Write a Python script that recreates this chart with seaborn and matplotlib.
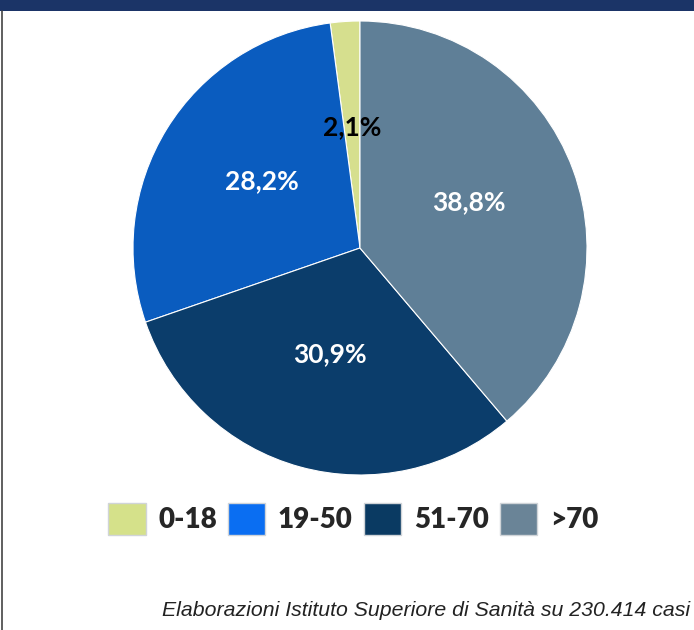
import matplotlib
matplotlib.use("Agg")
import numpy as np
import matplotlib.pyplot as plt
from matplotlib.patches import Patch, Rectangle
from matplotlib.lines import Line2D
import seaborn as sns

sns.set_theme(style="white")
plt.rcParams['font.family'] = ['Lato', 'DejaVu Sans']

# age classes and share of cases (%)
age_classes = ['0-18', '19-50', '51-70', '>70']
shares = [2.1, 28.2, 30.9, 38.8]
pct_labels = ['2,1%', '28,2%', '30,9%', '38,8%']
source_note = 'Elaborazioni Istituto Superiore di Sanità su 230.414 casi'

pie_colors = ['#d6df8e', '#0a5cbf', '#0b3d6b', '#5f7f97']
legend_colors = ['#d5e18a', '#0a6ef2', '#0a3a62', '#6a8497']
label_colors = ['black', 'white', 'white', 'white']

W, H = 694, 630
fig = plt.figure(figsize=(W / 100, H / 100), dpi=100)

# pie axes: centre (360, 248) px, radius 227 px
cx, cy, r = 360, 248, 227
ax = fig.add_axes([(cx - r) / W, (H - cy - r) / H, 2 * r / W, 2 * r / H])
wedges, _ = ax.pie(shares, colors=pie_colors, startangle=90, counterclock=True,
                   wedgeprops=dict(edgecolor='white', linewidth=0.8))
ax.set_xlim(-1, 1)
ax.set_ylim(-1, 1)
ax.set_aspect('equal')
ax.axis('off')

# percentage labels inside the wedges (nudged up a little, like the original)
for w, txt, col in zip(wedges, pct_labels, label_colors):
    ang = np.deg2rad((w.theta1 + w.theta2) / 2)
    ax.text(0.51 * np.cos(ang), 0.51 * np.sin(ang) + 0.025, txt, ha='center', va='center',
            color=col, fontsize=19, fontweight='bold')

# legend below the pie
handles = [Patch(facecolor=c, edgecolor='#d0d4d8', linewidth=1.0) for c in legend_colors]
fig.legend(handles, age_classes, loc='center', bbox_to_anchor=(353 / W, 1 - 519 / H),
           ncol=4, frameon=False, prop=dict(weight='heavy', size=20),
           handlelength=1.35, handleheight=1.35, handletextpad=0.45,
           columnspacing=0.4, borderpad=0)

# top navy banner and left border
fig.patches.append(Rectangle((0, 1 - 11 / H), 1, 11 / H, transform=fig.transFigure,
                             facecolor='#1b3467', edgecolor='none'))
fig.lines.append(Line2D([1.5 / W, 1.5 / W], [0, 1 - 11 / H], transform=fig.transFigure,
                        color='#444444', linewidth=1.2))

fig.text(690 / W, 1 - 611 / H, source_note, ha='right', va='center', fontsize=15.3,
         style='italic', family=['Liberation Sans', 'DejaVu Sans'], color='#222222')

plt.savefig('out.png', dpi=100)
